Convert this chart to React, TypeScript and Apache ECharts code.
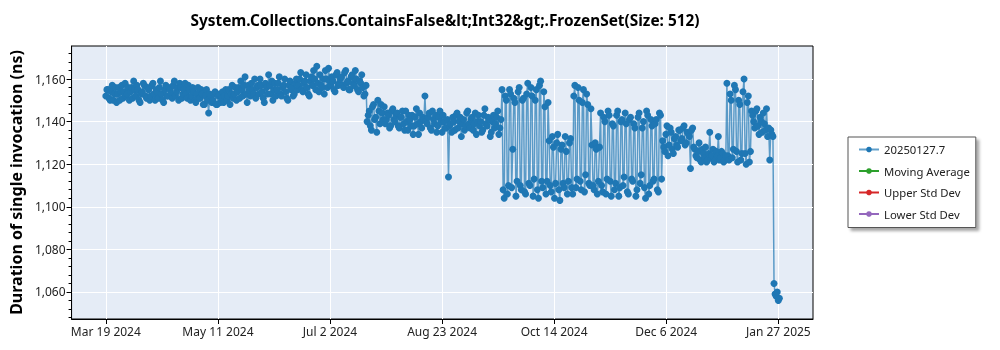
import React, { useEffect, useRef } from "react";
import * as echarts from "echarts";

const TITLE = "System.Collections.ContainsFalse&lt;Int32&gt;.FrozenSet(Size: 512)";
const Y_NAME = "Duration of single invocation (ns)";
const SERIES_NAMES = ["20250127.7", "Moving Average", "Upper Std Dev", "Lower Std Dev"];
const SERIES_COLORS = ["#1f77b4", "#2ca02c", "#d62728", "#9467bd"];

// First measurement date (UTC); two runs per day: at midnight and at noon
const START_DATE = "2024-03-19";
const MIDNIGHT_VALUES: number[] = [
  1152, 1155, 1150, 1157, 1153, 1149, 1156, 1154, 1151, 1158,
  1153, 1150, 1156, 1159, 1152, 1155, 1149, 1154, 1157, 1151,
  1155, 1152, 1158, 1150, 1154, 1156, 1153, 1149, 1157, 1152,
  1155, 1151, 1159, 1154, 1150, 1156, 1153, 1158, 1151, 1155,
  1152, 1154, 1149, 1156, 1151, 1153, 1148, 1155, 1144, 1152,
  1150, 1154, 1148, 1153, 1151, 1149, 1155, 1152, 1148, 1157,
  1153, 1150, 1156, 1159, 1152, 1161, 1149, 1155, 1158, 1153,
  1151, 1157, 1160, 1154, 1149, 1156, 1162, 1153, 1150, 1158,
  1155, 1161, 1152, 1157, 1154, 1150, 1159, 1156, 1153, 1160,
  1157, 1163, 1154, 1159, 1156, 1152, 1161, 1164, 1155, 1158,
  1162, 1156, 1153, 1160, 1165, 1157, 1159, 1154, 1163, 1158,
  1161, 1156, 1164, 1159, 1155, 1162, 1157, 1160, 1154, 1158,
  1156, 1153,
  1140, 1145, 1136, 1148, 1142, 1150, 1139, 1144,
  1147, 1141, 1143, 1138, 1146, 1140, 1144, 1137, 1142, 1139,
  1145, 1136, 1141, 1143, 1138, 1146, 1134, 1140, 1142, 1152,
  1139, 1144, 1136, 1141, 1143, 1138, 1145, 1135, 1140, 1137,
  1114, 1139, 1142, 1136, 1144, 1140, 1133, 1141, 1138, 1145,
  1137, 1142, 1139, 1134, 1143, 1140, 1136, 1146, 1138, 1141,
  1135, 1143, 1139, 1145, 1137,
  1155, 1104, 1150, 1110, 1153, 1127, 1149, 1112, 1156, 1108, 1151,
  1106, 1158, 1110, 1152, 1113, 1155, 1104, 1159, 1109, 1147, 1112,
  1131, 1107, 1128, 1111, 1134, 1103, 1129, 1109, 1126, 1112, 1132,
  1106, 1157, 1113, 1150, 1108, 1155, 1115, 1148, 1110,
  1129, 1108, 1127, 1112,
  1144, 1107, 1140, 1113, 1143, 1105, 1138, 1111, 1145, 1109,
  1141, 1114, 1139, 1106, 1142, 1112, 1137, 1108, 1144, 1115,
  1140, 1104, 1143, 1110, 1138, 1113, 1141, 1107, 1143,
  1131, 1126, 1138, 1129, 1135, 1125, 1133, 1128,
  1136, 1132, 1138, 1130, 1134, 1118, 1137,
  1127, 1123, 1130, 1121, 1125, 1128, 1122, 1135, 1124, 1121, 1126, 1133, 1123, 1125, 1122,
  1158, 1122, 1150, 1127, 1155, 1121, 1148, 1125, 1160, 1120, 1152, 1126,
  1143, 1137, 1146, 1134, 1140, 1144, 1136, 1133, 1122, 1134,
  1064, 1058, 1056,
];
const NOON_VALUES: number[] = [
  1155, 1151, 1154, 1150, 1156, 1153, 1150, 1157, 1154, 1152,
  1156, 1154, 1151, 1155, 1157, 1150, 1153, 1158, 1152, 1156,
  1150, 1157, 1153, 1155, 1151, 1159, 1150, 1155, 1152, 1156,
  1153, 1157, 1152, 1156, 1158, 1151, 1155, 1153, 1157, 1150,
  1156, 1150, 1153, 1151, 1155, 1148, 1152, 1150, 1153, 1149,
  1153, 1148, 1152, 1149, 1154, 1152, 1150, 1155, 1153, 1151,
  1156, 1154, 1151, 1155, 1157, 1153, 1157, 1152, 1155, 1160,
  1156, 1153, 1157, 1151, 1158, 1153, 1157, 1159, 1155, 1152,
  1158, 1153, 1156, 1160, 1151, 1157, 1155, 1152, 1158, 1155,
  1160, 1155, 1158, 1162, 1153, 1159, 1157, 1160, 1166, 1154,
  1157, 1160, 1164, 1156, 1159, 1161, 1155, 1162, 1157, 1160,
  1157, 1163, 1158, 1155, 1161, 1158, 1164, 1155, 1159, 1162,
  1152, 1157,
  1143, 1138, 1147, 1141, 1135, 1145, 1148, 1141,
  1139, 1144, 1137, 1145, 1141, 1143, 1138, 1142, 1145, 1136,
  1140, 1143, 1138, 1134, 1142, 1139, 1144, 1137, 1141, 1140,
  1142, 1137, 1145, 1139, 1135, 1142, 1140, 1143, 1137, 1141,
  1138, 1135, 1140, 1143, 1137, 1142, 1139, 1136, 1144, 1139,
  1141, 1136, 1144, 1140, 1138, 1135, 1143, 1139, 1142, 1133,
  1140, 1137, 1142, 1134, 1141,
  1108, 1152, 1106, 1155, 1109, 1151, 1105, 1154, 1110, 1150, 1107,
  1153, 1111, 1156, 1105, 1150, 1108, 1157, 1112, 1154, 1106, 1149,
  1110, 1133, 1104, 1130, 1108, 1127, 1111, 1133, 1106, 1130, 1109,
  1152, 1109, 1156, 1112, 1149, 1107, 1153, 1111, 1146,
  1110, 1130, 1106, 1128,
  1110, 1142, 1106, 1145, 1112, 1139, 1108, 1143, 1105, 1140,
  1110, 1144, 1107, 1141, 1113, 1139, 1105, 1142, 1111, 1137,
  1109, 1145, 1106, 1141, 1112, 1139, 1108, 1144, 1113,
  1128, 1134, 1124, 1137, 1127, 1132, 1129, 1136,
  1131, 1137, 1129, 1135, 1133, 1136, 1128,
  1124, 1126, 1122, 1127, 1123, 1121, 1125, 1123, 1127, 1122, 1124, 1122, 1126, 1121, 1124,
  1124, 1153, 1123, 1157, 1126, 1150, 1122, 1154, 1125, 1149, 1121, 1145,
  1140, 1145, 1138, 1142, 1135, 1139, 1146, 1137, 1136, 1133,
  1059, 1060, 1057,
];

const X_TICK_LABELS = ["Mar 19 2024", "May 11 2024", "Jul 2 2024", "Aug 23 2024", "Oct 14 2024", "Dec 6 2024", "Jan 27 2025"];
const X_TICK_SPAN_DAYS = 314; // Mar 19 2024 -> Jan 27 2025
const Y_TICKS = [1060, 1080, 1100, 1120, 1140, 1160];
const Y_MINOR_STEP = 4;
const Y_MIN = 1047.3;
const Y_MAX = 1175.5;
const X_PAD_LEFT_DAYS = 16.0;
const X_PAD_RIGHT_DAYS = 16.2;

const DAY = 86400000;

export default function App() {
  const ref = useRef<HTMLDivElement>(null);
  useEffect(() => {
    if (!ref.current) return;
    const chart = echarts.init(ref.current, null, { renderer: "svg" });
    const start = Date.parse(START_DATE + "T00:00:00Z");
    const step = (X_TICK_SPAN_DAYS / (X_TICK_LABELS.length - 1)) * DAY;
    const xTicks = X_TICK_LABELS.map((_, i) => start + i * step);
    const minorTicks: number[] = [];
    for (let v = 1048; v <= 1175; v += Y_MINOR_STEP) minorTicks.push(v);
    const data: number[][] = [];
    MIDNIGHT_VALUES.forEach((v, i) => {
      data.push([start + i * DAY, v]);
      if (i < NOON_VALUES.length) data.push([start + i * DAY + DAY / 2, NOON_VALUES[i]]);
    });
    const font = "'Noto Sans', sans-serif";

    chart.setOption({
      animation: false,
      title: {
        text: TITLE,
        left: 440,
        textAlign: "center",
        top: 8,
        textStyle: { fontFamily: font, fontWeight: "bold", fontSize: 15.4, color: "#000" },
      },
      grid: {
        left: 63,
        right: 187,
        top: 46,
        bottom: 31,
        show: true,
        backgroundColor: "#e5ecf6",
        borderColor: "#000",
        borderWidth: 1,
      },
      legend: {
        orient: "vertical",
        left: 848,
        top: 137,
        data: SERIES_NAMES,
        backgroundColor: "#fff",
        borderColor: "#555",
        borderWidth: 1,
        shadowColor: "rgba(0,0,0,0.35)",
        shadowBlur: 3,
        shadowOffsetX: 3,
        shadowOffsetY: 3,
        padding: [7, 6, 8, 10],
        itemGap: 10.5,
        itemWidth: 20,
        itemHeight: 7,
        textStyle: { fontFamily: font, fontSize: 11.3, color: "#222" },
      },
      xAxis: {
        type: "value",
        min: start - X_PAD_LEFT_DAYS * DAY,
        max: start + (X_TICK_SPAN_DAYS + X_PAD_RIGHT_DAYS) * DAY,
        axisLine: { show: true, lineStyle: { color: "#000", width: 1 } },
        axisTick: { show: true, customValues: xTicks, length: 5, lineStyle: { color: "#000" } },
        axisLabel: {
          customValues: xTicks,
          fontFamily: font,
          fontSize: 12,
          color: "#222",
          margin: 6,
          formatter: (val: number) => {
            const k = Math.round((val - start) / step);
            return X_TICK_LABELS[k] ?? "";
          },
        },
        splitLine: { show: true, lineStyle: { color: "#fff", width: 1 } },
      },
      yAxis: [
        {
          type: "value",
          min: Y_MIN,
          max: Y_MAX,
          name: Y_NAME,
          nameLocation: "middle",
          nameGap: 47,
          nameRotate: 90,
          nameTextStyle: { fontFamily: font, fontWeight: "bold", fontSize: 16, color: "#000" },
          axisLine: { show: true, lineStyle: { color: "#000", width: 1 } },
          axisTick: { show: true, customValues: Y_TICKS, length: 5, lineStyle: { color: "#000" } },
          axisLabel: {
            customValues: Y_TICKS,
            fontFamily: font,
            fontSize: 12,
            color: "#222",
            margin: 6,
            formatter: (v: number) => v.toLocaleString("en-US"),
          },
          splitLine: { show: true, lineStyle: { color: "#fff", width: 1 } },
        },
        {
          type: "value",
          min: Y_MIN,
          max: Y_MAX,
          position: "left",
          axisLine: { show: false },
          axisTick: { show: true, customValues: minorTicks, length: 3, lineStyle: { color: "#000" } },
          axisLabel: { show: false },
          splitLine: { show: false },
        },
      ],
      series: [
        {
          name: SERIES_NAMES[0],
          type: "line",
          data,
          color: SERIES_COLORS[0],
          symbol: "circle",
          symbolSize: 7,
          showSymbol: true,
          lineStyle: { width: 1.5, color: SERIES_COLORS[0], opacity: 0.7 },
          itemStyle: { color: SERIES_COLORS[0] },
        },
        ...SERIES_NAMES.slice(1).map((name, i) => ({
          name,
          type: "line",
          data: [] as number[][],
          color: SERIES_COLORS[i + 1],
          symbol: "circle",
          symbolSize: 7,
          lineStyle: { width: 1.5, color: SERIES_COLORS[i + 1] },
          itemStyle: { color: SERIES_COLORS[i + 1] },
        })),
      ],
    });
    return () => chart.dispose();
  }, []);
  return <div ref={ref} style={{ position: "fixed", left: 0, top: 0, width: 1000, height: 350 }} />;
}
